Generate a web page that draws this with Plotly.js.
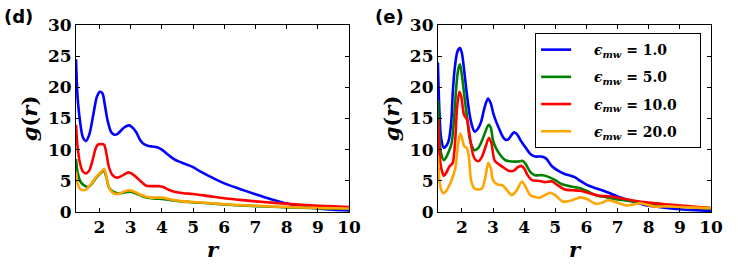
<!DOCTYPE html>
<html>
<head>
<meta charset="utf-8">
<script src="https://cdn.plot.ly/plotly-3.0.1.min.js"></script>
<style>html,body{margin:0;padding:0;background:#fff;}#chart{width:738px;height:275px;}</style>
</head>
<body>
<div id="chart"></div>
<script>
// ---------- Panel (d) ----------
const blueD_r = [1.25,1.3,1.38,1.47,1.57,1.68,1.8,1.92,2.02,2.1,2.18,2.27,2.38,2.48,2.57,2.68,2.8,2.95,3.05,3.18,3.3,3.42,3.57,3.7,3.85,4.0,4.15,4.3,4.45,4.6,4.8,5.0,5.2,5.5,6.0,6.5,7.0,7.5,8.0,8.5,9.0,9.5,10.0];
const blueD_g = [24.5,18.5,14.5,12.0,11.4,12.5,15.5,18.5,19.3,19.0,17.0,14.5,12.8,12.4,12.5,13.0,13.6,13.9,13.6,12.8,11.6,10.9,10.6,10.5,10.4,10.0,9.4,8.8,8.3,8.0,7.6,7.2,6.6,5.8,4.6,3.7,2.85,2.05,1.35,0.9,0.55,0.35,0.25];

const redD_r = [1.25,1.3,1.38,1.47,1.57,1.67,1.78,1.88,1.95,2.05,2.15,2.22,2.3,2.42,2.55,2.68,2.82,2.93,3.05,3.2,3.35,3.5,3.7,3.9,4.05,4.2,4.4,4.7,5.0,5.5,6.0,6.5,7.0,7.5,8.0,8.5,9.0,9.5,10.0];
const redD_g = [14.0,10.5,7.8,6.5,6.2,6.6,8.3,10.2,10.8,10.9,10.8,9.5,7.3,5.9,5.5,5.7,6.1,6.35,6.1,5.5,4.8,4.2,4.15,4.15,4.0,3.6,3.25,3.0,2.9,2.55,2.2,1.95,1.7,1.5,1.3,1.15,1.0,0.9,0.8];

const greenD_r = [1.25,1.3,1.38,1.47,1.57,1.65,1.75,1.85,1.95,2.05,2.15,2.22,2.3,2.4,2.52,2.65,2.8,2.95,3.05,3.2,3.4,3.6,3.8,4.0,4.3,4.6,5.0,5.5,6.0,6.5,7.0,7.5,8.0,8.5,9.0,9.5,10.0];
const greenD_g = [8.5,6.4,5.0,4.4,4.1,4.0,4.5,5.2,5.8,6.3,6.6,5.6,4.0,3.4,3.1,3.0,3.15,3.25,3.2,2.9,2.5,2.25,2.15,2.1,1.9,1.7,1.55,1.4,1.2,1.05,0.95,0.85,0.75,0.7,0.6,0.55,0.5];

const orangeD_r = greenD_r;
const orangeD_g = [6.5,4.6,3.7,3.5,3.6,4.0,4.6,5.3,5.9,6.4,6.9,5.8,4.1,3.2,2.9,2.95,3.3,3.5,3.4,3.05,2.6,2.35,2.3,2.3,2.0,1.75,1.6,1.45,1.25,1.1,1.0,0.9,0.8,0.72,0.65,0.6,0.55];

// ---------- Panel (e) ----------
const blueE_r = [1.23,1.28,1.33,1.42,1.5,1.58,1.66,1.71,1.77,1.86,1.94,2.0,2.09,2.17,2.25,2.33,2.41,2.52,2.62,2.73,2.84,2.93,3.0,3.1,3.2,3.3,3.4,3.5,3.6,3.68,3.78,3.9,4.05,4.2,4.35,4.55,4.7,4.9,5.1,5.3,5.5,5.65,5.8,6.0,6.25,6.5,6.75,7.0,7.5,8.0,8.5,9.0,9.5,10.0];
const blueE_g = [24.0,16.0,12.0,10.3,10.6,11.5,14.5,19.3,23.0,25.8,26.3,25.5,22.0,18.5,15.6,13.8,12.9,13.4,14.5,16.8,18.2,17.4,16.0,14.5,13.3,12.2,11.6,11.7,12.4,12.8,12.4,11.4,10.3,9.3,8.9,8.9,8.6,7.3,6.6,6.1,5.8,5.5,5.0,4.4,3.9,3.5,3.0,2.5,1.7,1.0,0.7,0.45,0.3,0.2];

const greenE_r = [1.23,1.28,1.33,1.42,1.5,1.58,1.67,1.75,1.82,1.88,1.94,2.0,2.09,2.17,2.25,2.33,2.41,2.53,2.65,2.75,2.86,2.93,3.0,3.1,3.27,3.4,3.6,3.8,3.95,4.05,4.2,4.35,4.6,4.8,5.0,5.2,5.4,5.6,5.8,6.0,6.3,6.6,7.0,7.5,8.0,8.5,9.0,9.5,10.0];
const greenE_g = [18.0,12.0,9.5,8.3,8.8,9.7,11.0,15.0,20.0,22.8,23.7,22.0,18.2,15.0,11.8,10.5,9.9,10.3,11.5,12.8,14.0,13.5,11.5,10.2,8.9,8.3,8.1,8.1,8.2,7.7,6.4,5.9,5.9,5.6,5.1,4.5,4.2,4.0,3.8,3.4,2.7,2.4,2.0,1.7,1.35,1.15,0.95,0.75,0.6];

const redE_r = [1.23,1.28,1.34,1.42,1.5,1.6,1.7,1.78,1.85,1.92,1.98,2.07,2.17,2.23,2.3,2.37,2.45,2.55,2.65,2.75,2.87,2.95,3.05,3.2,3.35,3.5,3.65,3.8,3.9,4.0,4.1,4.25,4.45,4.65,4.9,5.05,5.3,5.55,5.8,6.1,6.4,6.8,7.1,7.5,8.0,8.5,9.0,9.5,10.0];
const redE_g = [15.0,9.5,7.0,5.8,6.3,7.3,7.8,11.0,17.0,19.3,18.5,15.6,14.8,13.0,10.7,9.0,8.3,8.2,8.9,10.3,11.9,11.0,8.3,7.6,7.1,6.6,6.6,7.2,7.4,7.0,6.0,5.1,5.0,4.8,4.9,4.4,3.6,3.5,3.4,3.0,2.6,2.5,2.2,1.85,1.5,1.25,1.05,0.85,0.65];

const orangeE_r = [1.23,1.28,1.34,1.42,1.5,1.6,1.7,1.8,1.88,1.95,2.02,2.08,2.15,2.22,2.3,2.4,2.5,2.65,2.75,2.85,2.93,3.0,3.15,3.3,3.45,3.6,3.75,3.93,4.05,4.2,4.5,4.7,4.85,5.0,5.25,5.55,5.8,6.05,6.3,6.5,6.7,7.0,7.3,7.5,7.7,8.0,8.2,8.6,9.0,9.5,10.0];
const orangeE_g = [9.0,5.0,3.5,3.0,3.4,4.3,5.5,7.3,11.0,12.6,11.5,10.5,10.3,9.0,5.0,3.8,3.6,3.8,5.5,7.9,7.0,5.1,4.4,4.3,3.5,2.7,3.4,4.9,4.0,2.7,2.3,2.8,3.1,2.7,1.65,1.9,2.35,2.0,1.3,1.5,1.9,1.5,1.05,1.2,1.4,1.1,0.85,0.9,0.8,0.7,0.65];

const legendLabels = ["1.0", "5.0", "10.0", "20.0"];
const xTickVals = [2, 3, 4, 5, 6, 7, 8, 9, 10];
const yTickVals = [0, 5, 10, 15, 20, 25, 30];
const colors = ["#0000ff", "#008000", "#ff0000", "#ffa500"];

const serif = "DejaVu Serif";

function mk(x, y, i, xa, ya, show) {
  return {
    x: x, y: y, xaxis: xa, yaxis: ya, type: "scatter", mode: "lines",
    line: {color: colors[i], width: 2.6, shape: "spline", smoothing: 0.8},
    name: "&nbsp;&nbsp;&nbsp;&nbsp;<b><i>ϵ<sub>mw</sub></i> = " + legendLabels[i] + "</b>&nbsp;&nbsp;&nbsp;&nbsp;",
    showlegend: show, legendgroup: "g" + i
  };
}

const data = [
  mk(blueD_r, blueD_g, 0, "x", "y", false),
  mk(greenD_r, greenD_g, 1, "x", "y", false),
  mk(redD_r, redD_g, 2, "x", "y", false),
  mk(orangeD_r, orangeD_g, 3, "x", "y", false),
  mk(blueE_r, blueE_g, 0, "x2", "y2", true),
  mk(greenE_r, greenE_g, 1, "x2", "y2", true),
  mk(redE_r, redE_g, 2, "x2", "y2", true),
  mk(orangeE_r, orangeE_g, 3, "x2", "y2", true)
];

function xax(dom, lo) {
  return {
    domain: dom, range: [lo, 10], tickmode: "array",
    tickvals: xTickVals, ticktext: xTickVals.map(v => "<b>" + v + "</b>"),
    ticks: "inside", ticklen: 4, tickcolor: "#000", mirror: "ticks",
    showline: true, linecolor: "#000", linewidth: 1, showgrid: false, zeroline: false,
    tickfont: {family: serif, size: 17, color: "#000"},
    title: {text: "<b><i>r</i></b>", font: {family: serif, size: 21, color: "#000"}, standoff: 4}
  };
}
function yax(anchor) {
  return {
    domain: [0, 1], range: [0, 30], anchor: anchor, tickmode: "array",
    tickvals: yTickVals, ticktext: yTickVals.map(v => "<b>" + v + "</b>"),
    ticks: "inside", ticklen: 4, tickcolor: "#000", mirror: "ticks",
    showline: true, linecolor: "#000", linewidth: 1, showgrid: false, zeroline: false,
    tickfont: {family: serif, size: 17, color: "#000"},
    title: {text: "<b><i>g</i>(<i>r</i>)</b>", font: {family: serif, size: 21, color: "#000"}, standoff: 4}
  };
}

const layout = {
  width: 738, height: 275,
  margin: {l: 76, r: 27, t: 25, b: 63},
  font: {family: serif, size: 17, color: "#000"},
  paper_bgcolor: "#fff", plot_bgcolor: "#fff",
  xaxis: Object.assign(xax([0, 0.4301], 1.25), {anchor: "y"}),
  yaxis: yax("x"),
  xaxis2: Object.assign(xax([0.5699, 1], 1.23), {anchor: "y2"}),
  yaxis2: yax("x2"),
  showlegend: true,
  legend: {
    x: 0.723, xref: "paper", xanchor: "left", y: 0.957, yanchor: "top",
    bordercolor: "#000", borderwidth: 1, bgcolor: "#fff",
    font: {family: serif, size: 14, color: "#000"},
    traceorder: "grouped", tracegroupgap: 6
  },
  annotations: [
    {text: "<b>(d)</b>", xref: "paper", yref: "paper", x: -0.116, y: 1.045, xanchor: "left", yanchor: "middle",
     showarrow: false, font: {family: "DejaVu Sans", size: 18, color: "#000"}},
    {text: "<b>(e)</b>", xref: "paper", yref: "paper", x: 0.467, y: 1.045, xanchor: "left", yanchor: "middle",
     showarrow: false, font: {family: "DejaVu Sans", size: 18, color: "#000"}}
  ]
};

Plotly.newPlot("chart", data, layout, {displayModeBar: false, staticPlot: true});
</script>
</body>
</html>
